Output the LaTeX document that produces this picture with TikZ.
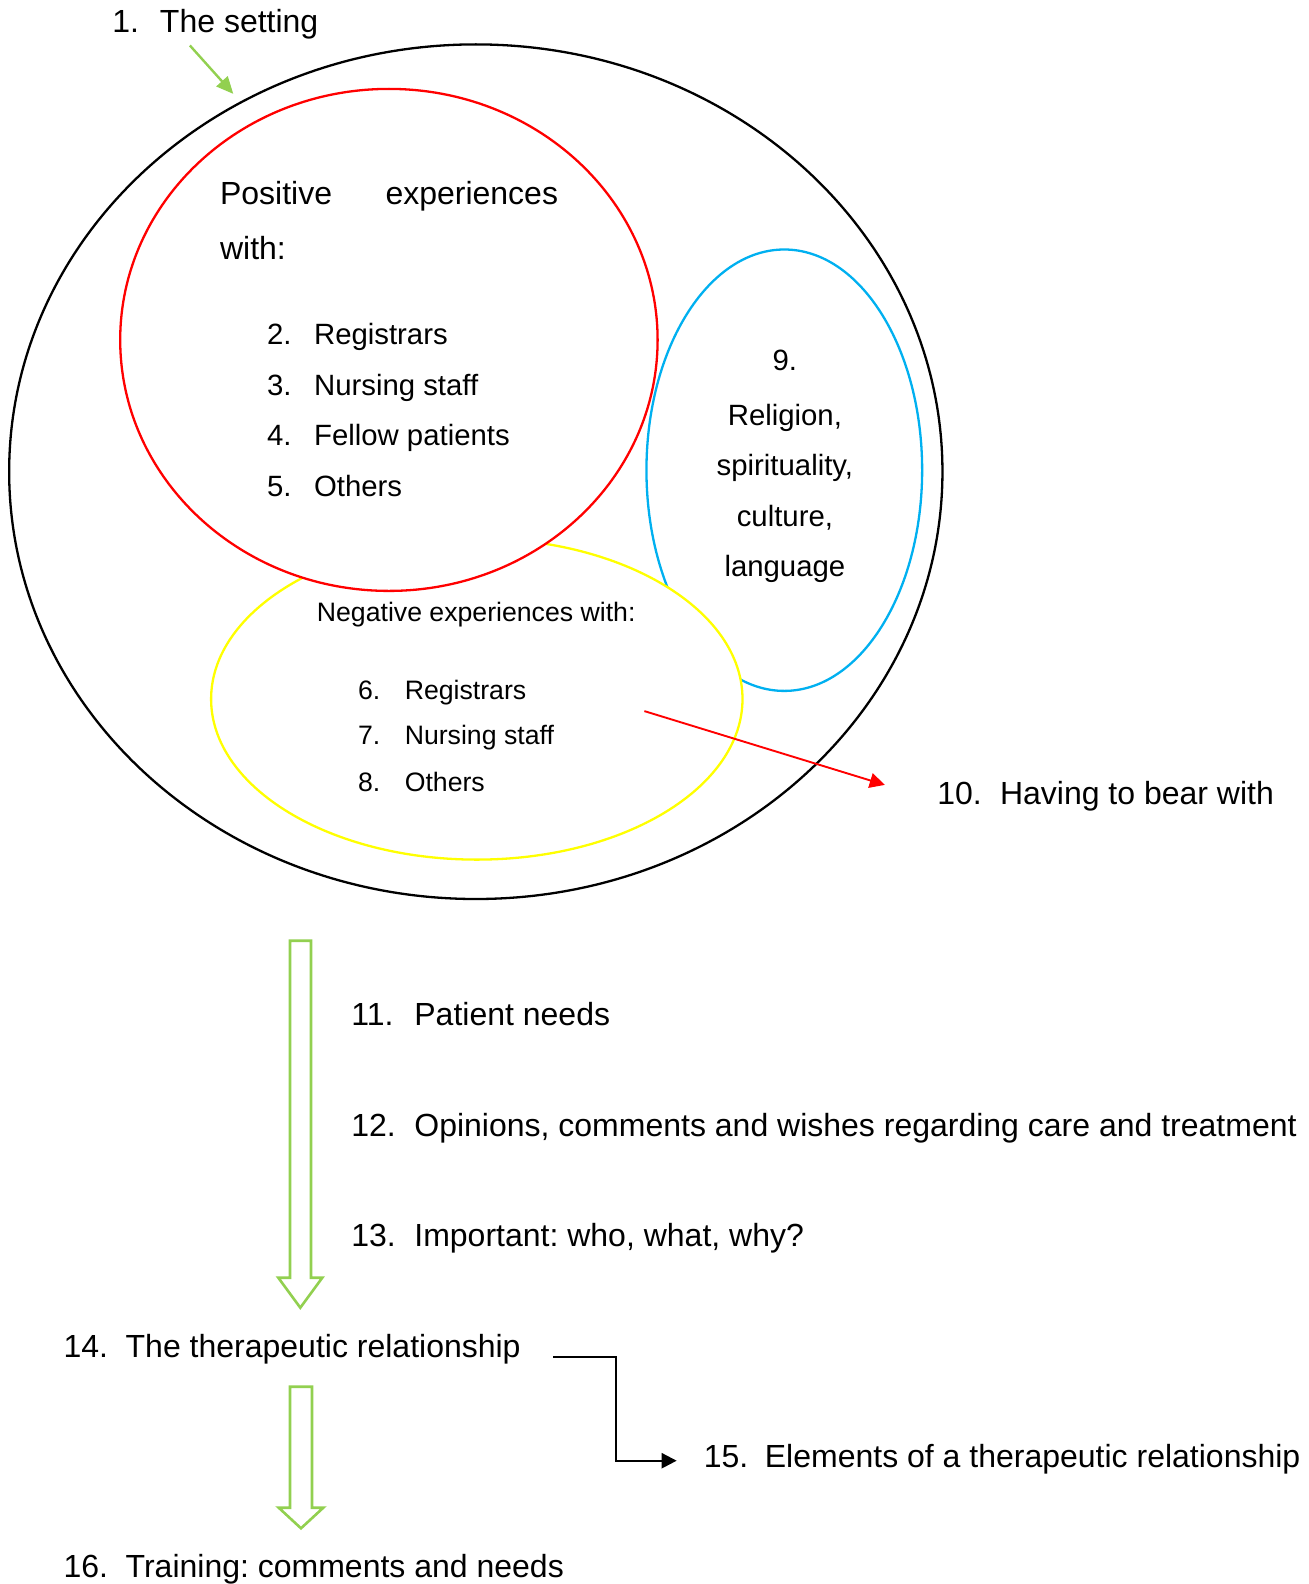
\documentclass[tikz,border=0pt]{standalone}
\usepackage{fontspec}
\setmainfont{Liberation Sans}
\usetikzlibrary{shapes.geometric,arrows.meta}
\definecolor{ringred}{RGB}{255,0,0}
\definecolor{ringyellow}{RGB}{255,255,0}
\definecolor{ringblue}{RGB}{0,176,240}
\definecolor{leafgreen}{RGB}{146,208,80}
% number followed by a tab-aligned text
\newcommand\numlab[2]{\makebox[#1][l]{#2}}
\frenchspacing
\begin{document}
\begin{tikzpicture}[x=0.5pt,y=-0.5pt,
  region/.style={ellipse, draw, fill=white, line width=1.15pt, inner sep=0pt, outer sep=0pt},
  txt/.style={anchor=base west, inner sep=0pt, font=\fontsize{16pt}{19pt}\selectfont\frenchspacing},
  listtxt/.style={anchor=base west, inner sep=0pt, font=\fontsize{14.67pt}{17pt}\selectfont\frenchspacing},
  smalltxt/.style={anchor=base west, inner sep=0pt, font=\fontsize{13.33pt}{16pt}\selectfont\frenchspacing},
  midtxt/.style={anchor=base, inner sep=0pt, font=\fontsize{14.67pt}{17pt}\selectfont},
  hollow/.style={draw=leafgreen, line width=1.3pt, line join=miter, fill=white},
  tipped/.style={line width=0.95pt, -{Triangle[length=7.5pt,width=7.5pt]}}
]
\useasboundingbox (0,0) rectangle (1309,1584);

% nested regions, painted back to front
\node[region, draw=black, minimum width=466.65pt, minimum height=427.3pt] (setting) at (475.8,471.7) {};
\node[region, draw=ringblue, minimum width=137.85pt, minimum height=220.7pt] (culture) at (784.3,470.2) {};
\node[region, draw=ringyellow, minimum width=265.7pt, minimum height=160.6pt] (negative) at (476.8,699) {};
\node[region, draw=ringred, minimum width=268.7pt, minimum height=251pt] (positive) at (388.9,339.9) {};

% labels
\node[txt] (t1) at (112,33) {\numlab{23.8pt}{1.}The setting};
\node[txt] (pos1) at (219.7,204) {\hbox to 169pt{Positive\hfill experiences}};
\node[txt] (pos2) at (219.7,259.6) {with:};
\node[listtxt] (t2) at (266.7,344.4) {\numlab{23.5pt}{2.}Registrars};
\node[listtxt] (t3) at (266.7,395) {\numlab{23.5pt}{3.}Nursing staff};
\node[listtxt] (t4) at (266.7,445.5) {\numlab{23.5pt}{4.}Fellow patients};
\node[listtxt] (t5) at (266.7,496) {\numlab{23.5pt}{5.}Others};

\node[midtxt] (t9a) at (784.9,370.7) {9.};
\node[midtxt] (t9b) at (784.9,425.3) {Religion,};
\node[midtxt] (t9c) at (784.9,475.8) {spirituality,};
\node[midtxt] (t9d) at (784.9,526.3) {culture,};
\node[midtxt] (t9e) at (784.9,576.8) {language};

\node[smalltxt] (neg) at (316.5,621.2) {Negative experiences with:};
\node[smalltxt] (t6) at (357.6,699) {\numlab{23.4pt}{6.}Registrars};
\node[smalltxt] (t7) at (357.6,744.5) {\numlab{23.4pt}{7.}Nursing staff};
\node[smalltxt] (t8) at (357.6,791) {\numlab{23.4pt}{8.}Others};

\node[txt] (t10) at (937,804) {\numlab{31.3pt}{10.}Having to bear with};
\node[txt] (t11) at (351,1025) {\numlab{31.5pt}{11.}Patient needs};
\node[txt] (t12) at (351,1136.4) {\numlab{31.5pt}{12.}Opinions, comments and wishes regarding care and treatment};
\node[txt] (t13) at (351,1246.5) {\numlab{31.5pt}{13.}Important: who, what, why?};
\node[txt] (t14) at (63.1,1357.6) {\numlab{31.1pt}{14.}The therapeutic relationship};
\node[txt] (t15) at (703.5,1467.7) {\numlab{30.5pt}{15.}Elements of a therapeutic relationship};
\node[txt] (t16) at (63.1,1577) {\numlab{31.1pt}{16.}Training: comments and needs};

% connectors
\coordinate (g0) at (189.9,45.5);
\coordinate (g1) at (233.3,93.9);
\draw[leafgreen, line width=1.2pt, -{Triangle[length=8.5pt,width=7.5pt]}] (g0) -- (g1);

\coordinate (r0) at (644.4,711.1);
\coordinate (r1) at (884.8,784.9);
\draw[tipped, draw=ringred, fill=ringred] (r0) -- (r1);

\coordinate (e0) at (553.3,1356.7);
\coordinate (e1) at (676.7,1460.7);
\draw[tipped, line width=1.1pt] (e0) -- (615.7,1356.7) |- (e1);

% hollow block arrows
\draw[hollow] (290,940.7) -- (311,940.7) -- (311,1277.7) -- (322.3,1277.7)
  -- (300.3,1307.7) -- (278.3,1277.7) -- (290,1277.7) -- cycle;
\draw[hollow] (290,1386.7) -- (312,1386.7) -- (312,1507.7) -- (323.3,1507.7)
  -- (301,1528.3) -- (278.7,1507.7) -- (290,1507.7) -- cycle;
\end{tikzpicture}
\end{document}
